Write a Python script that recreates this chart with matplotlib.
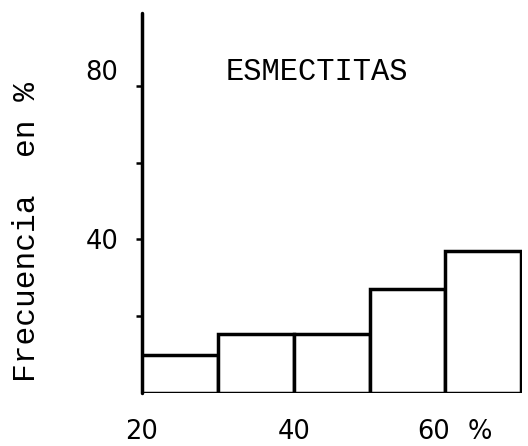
import matplotlib
matplotlib.use("Agg")
import matplotlib.pyplot as plt
import matplotlib.transforms as mtransforms

# Histogram of smectite content (%) and its frequency (%)
bin_edges = [20, 30, 40, 50, 60, 70]
frequencies = [10, 15.5, 15.5, 27, 37]

y_ticks = [20, 40, 60, 80]
y_tick_labels = ["", "40", "", "80"]
x_ticks = [20, 40, 60]
x_tick_labels = ["20", "40", "60"]

title_text = "ESMECTITAS"
y_label = "Frecuencia  en %"

fig = plt.figure(figsize=(5.28, 4.46), dpi=100)
ax = fig.add_axes([0.269, 0.1188, 0.7196, 433 / 446 - 0.1188])

lw = 2.5
lefts = bin_edges[:-1]
widths = [b - a for a, b in zip(bin_edges[:-1], bin_edges[1:])]
ax.bar(lefts, frequencies, width=widths, align="edge",
       facecolor="white", edgecolor="black", linewidth=lw, zorder=3)

ax.set_xlim(bin_edges[0], bin_edges[-1] + 0.1)
ax.set_ylim(0, 99)

for side in ("top", "right", "bottom"):
    ax.spines[side].set_visible(False)
ax.spines["left"].set_linewidth(lw)
ax.spines["left"].set_capstyle("round")

ax.set_yticks(y_ticks)
ax.set_yticklabels(y_tick_labels, fontsize=18.5, family="DejaVu Sans")
ax.tick_params(axis="y", direction="out", length=4, width=1.8, pad=13)

label_pad = 19
ax.set_xticks(x_ticks)
ax.set_xticklabels(x_tick_labels, fontsize=18.5, family="DejaVu Sans")
ax.tick_params(axis="x", length=0, pad=label_pad)

# shift the "80" label up and the "60" label left, as lettered on the plot
for lab in ax.get_yticklabels():
    if lab.get_text() == "80":
        lab.set_transform(lab.get_transform() +
                          mtransforms.ScaledTranslation(0, 16 / 100, fig.dpi_scale_trans))
for lab in ax.get_xticklabels():
    if lab.get_text() == "60":
        lab.set_transform(lab.get_transform() +
                          mtransforms.ScaledTranslation(-12 / 100, 0, fig.dpi_scale_trans))

# unit sign after the last x label
ax.annotate("%", xy=(60, 0), xycoords="data", xytext=(24.5, -label_pad),
            textcoords="offset points", ha="center", va="top",
            fontsize=18.5, family="DejaVu Sans")

ax.text(43.0, 83.5, title_text, ha="center", va="center",
        fontsize=22, family="Liberation Mono")

fig.text(27 / 528, 1 - 232 / 446, y_label, rotation=90, ha="center",
         va="center", fontsize=22.5, family="Liberation Mono")

fig.savefig("out.png", dpi=100, facecolor="white")
